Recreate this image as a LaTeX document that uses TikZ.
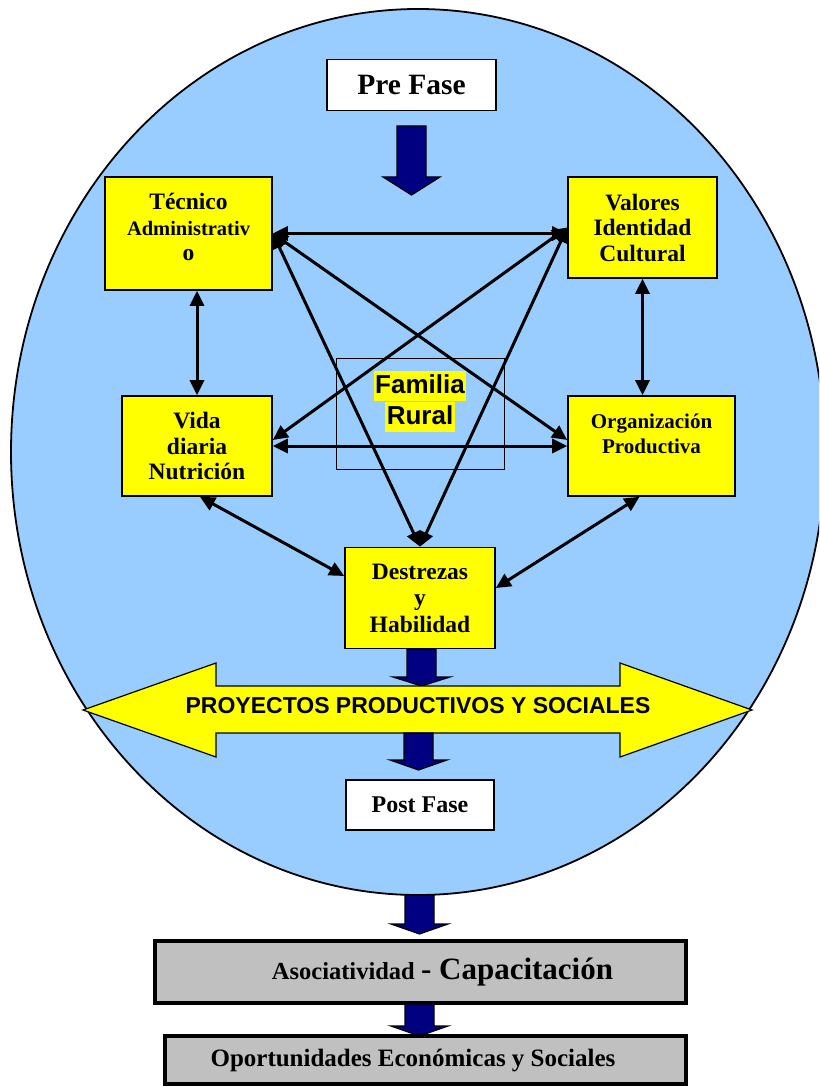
\documentclass[tikz,border=0pt]{standalone}
\usepackage{fontspec}
\setmainfont{Liberation Serif}
\newfontfamily\arialfont{Liberation Sans}
\usepackage{tikz}
\usetikzlibrary{arrows.meta}
\definecolor{skyfill}{HTML}{99CCFF}
\definecolor{boxyellow}{HTML}{FFFF00}
\definecolor{arrownavy}{HTML}{000080}
\definecolor{boxgray}{HTML}{C0C0C0}
\newcommand*{\navydown}[4]{%
  % #1: centre x, #2: top of shaft, #3: base of head, #4: tip
  \draw[blockarrow] (#1-14.5,#2) -- (#1+14.5,#2) -- (#1+14.5,#3) -- (#1+28.5,#3)
    -- (#1,#4) -- (#1-28.5,#3) -- (#1-14.5,#3) -- cycle;
}
\newcommand*{\hlword}[1]{%
  {\setlength{\fboxsep}{1.5pt}\colorbox{boxyellow}{\rule[-5.5pt]{0pt}{27pt}#1}}%
}

\begin{document}
\begin{tikzpicture}[x=1pt, y=-1pt,
  topic/.style={draw, fill=boxyellow, line width=1.6pt, align=center, inner sep=2pt,
    font=\bfseries\fontsize{23.5}{25.5}\selectfont},
  phase/.style={draw, fill=white, line width=1.6pt, font=\bfseries\fontsize{24}{27}\selectfont},
  result/.style={draw, fill=boxgray, line width=3.5pt, font=\bfseries\fontsize{25}{28}\selectfont},
  link/.style={{Triangle[length=15pt,width=14pt]}-{Triangle[length=15pt,width=14pt]}, line width=3pt},
  blockarrow/.style={fill=arrownavy, draw=black, line width=1.2pt}]
\useasboundingbox (0,0) rectangle (819,1086);
\clip (0,0) rectangle (819,1086);

\draw[fill=skyfill, line width=1.8pt] (418,452) ellipse [x radius=407pt, y radius=443pt];

% phases and topics
\node[phase, minimum width=169pt, minimum height=51pt, font=\bfseries\fontsize{29.5}{32}\selectfont] (pre) at (411.5,85) {Pre Fase};
\node[topic, minimum width=167pt, minimum height=113pt] (tec) at (188.5,233.5)
  {Técnico\\\fontsize{20.5}{24.5}\selectfont Administrativ\\o\\[-13pt]~};
\node[topic, minimum width=149pt, minimum height=101pt] (val) at (642.5,227.5) {Valores\\Identidad\\Cultural};
\node[topic, minimum width=150pt, minimum height=100pt] (vida) at (197,446) {Vida\\diaria\\Nutrición};
\node[topic, minimum width=167pt, minimum height=100pt, font=\bfseries\fontsize{21}{25}\selectfont] (org) at (651.5,446)
  {Organización\\Productiva\\~};
\node[topic, minimum width=150pt, minimum height=101pt, font=\bfseries\fontsize{23.5}{26.5}\selectfont] (des) at (420,598)
  {Destrezas\\y\\Habilidad};
\node[draw, line width=1pt, minimum width=168pt, minimum height=111pt] (fam) at (420,413.5) {};

\navydown{411.5}{126}{177}{195}

% links between topics
\draw[link] (tec.east) -- (tec.east -| val.west);
\draw[link] (tec.east) -- ([yshift=6pt]org.west);
\draw[link] (tec.east) -- (des.north);
\draw[link] (val.west) -- ([yshift=6pt]vida.east);
\draw[link] (val.west) -- (des.north);
\draw[link] (vida.east) -- (org.west);
\draw[link] (tec.south -| vida.north) -- (vida.north);
\draw[link] (val.south) -- (org.north -| val.south);
\draw[link] ([xshift=3pt]vida.south) -- ([yshift=22pt]des.west);
\draw[link] ([xshift=-12pt]org.south) -- ([yshift=10pt]des.east);

\node[font=\arialfont\bfseries\fontsize{26}{29.5}\selectfont, align=center, inner sep=0pt] (famtxt) at (420,401)
  {\hlword{Familia}\\\hlword{Rural}};

% projects
\navydown{421.5}{649}{677}{686}
\draw[fill=boxyellow, line width=1.2pt] (83,710) -- (216,663) -- (216,686) -- (620,686) -- (620,663)
  -- (752,710) -- (620,757) -- (620,733) -- (216,733) -- (216,757) -- cycle;
\node[font=\arialfont\bfseries\fontsize{23}{27}\selectfont] (proj) at (418,706) {PROYECTOS PRODUCTIVOS Y SOCIALES};
\navydown{418.5}{733}{760}{770}
\node[phase, minimum width=148pt, minimum height=50pt] (post) at (420,805) {Post Fase};

% results
\navydown{419.5}{895}{924}{934}
\node[result, minimum width=531pt, minimum height=62pt] (aso) at (420.5,972)
  {\hspace{44pt}{\fontsize{24.5}{28}\selectfont Asociatividad} {\fontsize{31}{34}\selectfont - Capacitación}};
\navydown{419.5}{1004}{1026}{1036}
\node[result, minimum width=521pt, minimum height=48pt] (opo) at (425.5,1060)
  {\hspace{-25pt}Oportunidades Económicas y Sociales};
\end{tikzpicture}
\end{document}
